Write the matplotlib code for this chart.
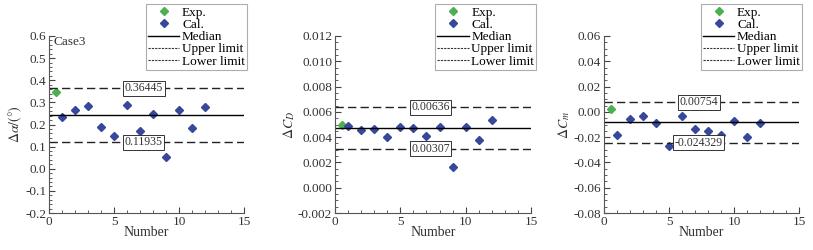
import numpy as np
import matplotlib.pyplot as plt
from matplotlib.lines import Line2D
from matplotlib.ticker import MultipleLocator

plt.rcParams['font.family'] = ['Liberation Serif', 'DejaVu Serif']
plt.rcParams['mathtext.fontset'] = 'stix'

# data
numbers = [1, 2, 3, 4, 5, 6, 7, 8, 9, 10, 11, 12]
exp_x = [0.5]

alpha_exp = [0.345]
alpha_cal = [0.233, 0.266, 0.284, 0.189, 0.149, 0.287, 0.170, 0.246, 0.051, 0.266, 0.186, 0.278]
alpha_limits = [0.36445, 0.11935]

cd_exp = [0.00499]
cd_cal = [0.00489, 0.00457, 0.00468, 0.00400, 0.00478, 0.00473, 0.00407, 0.00481,
          0.00160, 0.00478, 0.00376, 0.00536]
cd_limits = [0.00636, 0.00307]

cm_exp = [0.0025]
cm_cal = [-0.0180, -0.0054, -0.0030, -0.0088, -0.0267, -0.0035, -0.0138, -0.0153,
          -0.0180, -0.0075, -0.0200, -0.0088]
cm_limits = [0.00754, -0.024329]
limit_labels = [['0.36445', '0.11935'], ['0.00636', '0.00307'], ['0.00754', '-0.024329']]

panels = [
    (alpha_exp, alpha_cal, alpha_limits, r'$\Delta\alpha/(°)$', (-0.2, 0.6), 0.1, 0.02, '%.1f'),
    (cd_exp, cd_cal, cd_limits, r'$\Delta C_D$', (-0.002, 0.012), 0.002, 0.0005, '%.3f'),
    (cm_exp, cm_cal, cm_limits, r'$\Delta C_m$', (-0.08, 0.06), 0.02, 0.005, '%.2f'),
]

fig = plt.figure(figsize=(8.13, 2.5), dpi=100)
lefts = [49, 335, 604]
widths = [195, 196, 195]
leg_right = [1.015, 1.026, 1.015]
fs = 9.5
green, blue = '#4caf50', '#37479a'

# legend proxies (the legend draws the limits with fine dashes)
handles = [
    Line2D([], [], ls='none', marker='D', color=green, markersize=4.3),
    Line2D([], [], ls='none', marker='D', color=blue, markersize=4.3),
    Line2D([], [], color='black', lw=1.0),
    Line2D([], [], color='#333333', lw=0.8, ls=(0, (2, 1))),
    Line2D([], [], color='#333333', lw=0.8, ls=(0, (2, 1))),
]
names = ['Exp.', 'Cal.', 'Median', 'Upper limit', 'Lower limit']

for i, (ye, yc, lims, ylab, ylim, major, minor, fmt) in enumerate(panels):
    ax = fig.add_axes([lefts[i] / 813, 37 / 250, widths[i] / 813, 177 / 250])
    median = (lims[0] + lims[1]) / 2
    ax.plot(exp_x, ye, 'D', color=green, markersize=4.3)
    ax.plot(numbers, yc, 'D', color=blue, markersize=4.3)
    ax.axhline(median, color='black', lw=1.0)
    ax.axhline(lims[0], color='#222222', lw=1.0, ls=(0, (6, 3)))
    ax.axhline(lims[1], color='#222222', lw=1.0, ls=(0, (6, 3)))
    for y, txt in zip(lims, limit_labels[i]):
        ax.text(7.3, y, txt, ha='center', va='center', fontsize=8.5, color='#333333',
                bbox=dict(boxstyle='square,pad=0.12', fc='white', ec='#333333', lw=0.7))
    ax.set_xlim(0, 15)
    ax.set_ylim(*ylim)
    ax.xaxis.set_major_locator(MultipleLocator(5))
    ax.xaxis.set_minor_locator(MultipleLocator(1))
    ax.yaxis.set_major_locator(MultipleLocator(major))
    ax.yaxis.set_minor_locator(MultipleLocator(minor))
    ax.yaxis.set_major_formatter(plt.FormatStrFormatter(fmt))
    ax.tick_params(direction='in', which='both', labelsize=fs, colors='#444444',
                   labelcolor='#333333', pad=2)
    ax.tick_params(which='major', length=4)
    ax.tick_params(which='minor', length=2)
    for s in ['top', 'right']:
        ax.spines[s].set_visible(False)
    for s in ['left', 'bottom']:
        ax.spines[s].set_color('#555555')
    ax.set_xlabel('Number', fontsize=fs + 0.5, labelpad=-1, color='#333333')
    ax.set_ylabel(ylab, fontsize=fs + 0.5, labelpad=1, color='#333333')
    if i == 0:
        ax.text(0.35, 0.598, 'Case3', fontsize=fs, va='top', color='#333333')
    leg = ax.legend(handles, names, loc='upper right', bbox_to_anchor=(leg_right[i], 1.178),
                    fontsize=fs, frameon=True, fancybox=False, edgecolor='#999999',
                    borderpad=0.15, labelspacing=0.0, handlelength=2.4, handletextpad=0.2,
                    borderaxespad=0)
    leg.get_frame().set_linewidth(0.8)
    leg.set_zorder(5)

fig.savefig('out.png', dpi=100)
